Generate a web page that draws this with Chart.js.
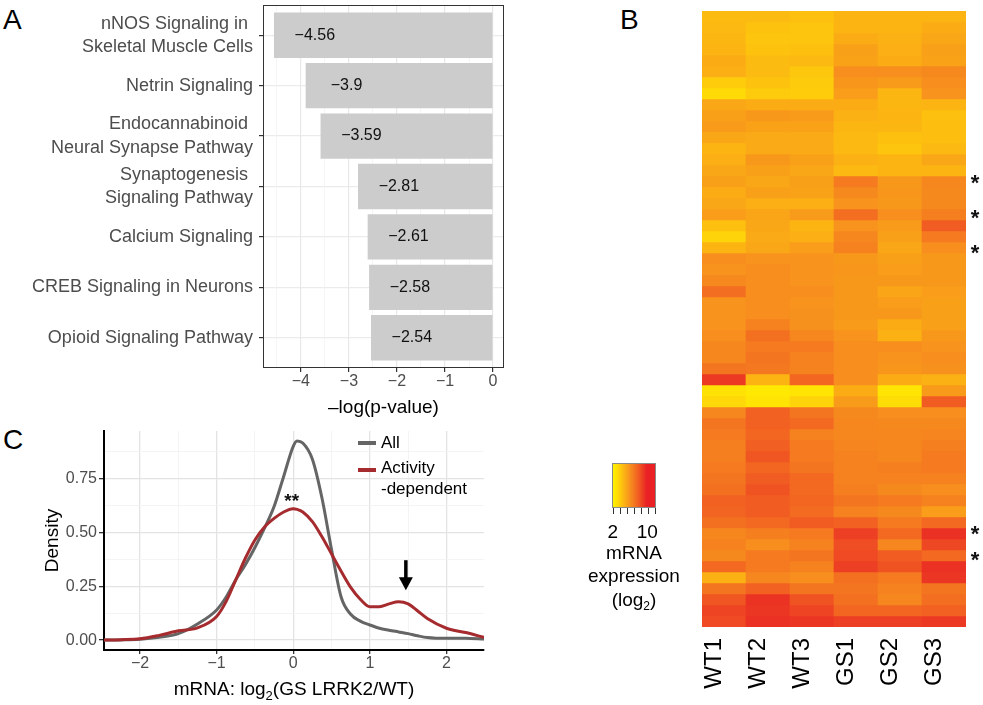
<!DOCTYPE html>
<html><head><meta charset="utf-8">
<script src="https://cdn.jsdelivr.net/npm/chart.js@4.4.1/dist/chart.umd.min.js"></script>
<style>
html,body{margin:0;padding:0;background:#fff;}
body{width:983px;height:705px;position:relative;overflow:hidden;font-family:"Liberation Sans",Arial,Helvetica,sans-serif;}
canvas{position:absolute;}
.plabel{position:absolute;font-size:28px;line-height:28px;color:#000;}
.lg{position:absolute;font-size:19px;line-height:22px;color:#000;text-align:center;white-space:nowrap;}
.lg sub{font-size:12px;line-height:0;vertical-align:-4px;}
</style></head>
<body>
<div class="plabel" style="left:3px;top:6px">A</div>
<div class="plabel" style="left:620px;top:6px">B</div>
<div class="plabel" style="left:3px;top:426px">C</div>
<canvas id="cA" width="520" height="420" style="left:0;top:0"></canvas>
<canvas id="cC" width="560" height="290" style="left:0;top:415px"></canvas>
<canvas id="cB" width="303" height="705" style="left:680px;top:0"></canvas>
<div id="legB"></div>
<script>
// ---------- Panel A data ----------
const pathways = [["nNOS Signaling in ","Skeletal Muscle Cells"],["Netrin Signaling"],["Endocannabinoid ","Neural Synapse Pathway"],["Synaptogenesis ","Signaling Pathway"],["Calcium Signaling"],["CREB Signaling in Neurons"],["Opioid Signaling Pathway"]];
const logP = [-4.56,-3.9,-3.59,-2.81,-2.61,-2.58,-2.54];
const pTicks = [-4,-3,-2,-1,0];

// ---------- Panel B data (log2 mRNA expression, rows top to bottom) ----------
const samples = ["WT1","WT2","WT3","GS1","GS2","GS3"];
const WT1 = [4.2,4.3,4.4,4.5,4.8,4.7,3.5,2.9,5.0,5.3, 5.5,5.0,4.5,4.7,5.0,5.3,4.8,5.0,5.4,4.0, 3.2,4.5,6.0,5.8,6.2,7.3,5.8,5.8,5.8,6.0, 6.3,6.3,7.0,9.2,2.6,3.0,6.3,7.0,6.8,6.6, 6.6,6.8,7.0,7.2,7.8,7.7,7.2,6.3,6.5,6.2, 7.5,4.6,7.0,8.2,8.8,8.6];
const WT2 = [4.2,3.9,3.8,3.9,4.2,4.2,3.9,3.6,4.8,5.6, 5.2,4.9,4.9,5.6,5.3,5.0,5.3,4.7,5.1,5.0, 4.9,5.0,5.8,6.0,6.0,6.0,6.0,6.0,6.5,7.2, 6.8,7.0,6.9,4.5,2.3,2.5,7.8,7.8,7.6,7.9, 8.2,7.6,8.0,8.3,8.0,8.0,7.5,6.6,6.0,6.8, 6.8,6.3,7.8,9.4,9.3,9.5];
const WT3 = [4.0,3.8,3.8,4.0,4.3,3.7,3.6,3.5,4.8,5.5, 5.2,4.9,4.9,5.3,5.0,5.3,5.2,4.7,5.5,4.5, 4.7,5.4,5.8,5.8,5.8,6.0,5.8,5.9,5.9,6.3, 6.8,6.5,6.5,7.6,2.5,3.2,7.0,7.5,6.5,6.8, 6.8,7.0,7.5,7.5,7.6,7.4,8.0,6.8,6.5,7.0, 6.5,6.0,7.0,8.3,8.8,9.3];
const GS1 = [4.5,4.5,4.8,5.3,5.2,6.0,5.7,5.4,4.8,4.6, 4.4,4.3,4.3,4.6,4.3,6.8,6.2,5.8,7.3,5.8, 6.3,6.5,5.6,5.7,5.6,5.6,5.6,5.6,5.5,5.8, 6.0,6.0,6.0,6.0,4.8,5.5,6.2,6.3,6.3,6.4, 6.5,6.5,6.5,6.6,7.0,6.5,7.8,9.0,8.5,8.6, 9.0,7.2,7.0,7.2,7.6,9.0];
const GS2 = [4.5,4.5,4.6,4.7,4.8,6.0,5.5,4.4,4.4,4.5, 4.4,4.0,3.8,4.5,4.5,5.6,5.7,5.6,6.0,5.5, 5.3,5.0,5.3,5.4,5.6,5.1,5.4,5.6,4.8,4.6, 6.0,5.8,5.7,4.8,2.5,2.8,6.0,6.2,6.3,6.3, 6.3,6.6,6.5,6.2,6.8,6.2,6.8,7.5,6.3,8.0, 8.3,6.8,6.5,6.3,7.6,9.0];
const GS3 = [4.5,4.8,5.0,5.3,5.2,6.2,6.0,5.8,4.5,4.0, 4.1,4.1,4.3,5.0,4.5,6.3,6.2,6.2,6.6,8.0, 6.8,6.0,5.6,5.6,5.6,5.4,5.3,5.3,5.3,5.6, 5.8,6.0,5.9,4.6,5.5,8.0,6.0,6.2,6.4,6.6, 6.8,6.8,6.5,6.0,6.5,5.4,7.5,9.5,8.7,7.5, 9.5,9.3,7.0,7.3,7.8,9.2];
const sigRows = [15.1,18.3,21.5,47.0,49.4];
const legendTicks = [2,10];

// ---------- Panel C data ----------
const densityX = [-2.5,-2.25,-2,-1.75,-1.5,-1.25,-1,-0.875,-0.75,-0.625,-0.5,-0.375,-0.25,-0.125,0,0.05,0.125,0.25,0.375,0.5,0.625,0.75,0.875,1,1.125,1.25,1.375,1.5,1.625,1.75,2,2.25,2.5];
const densityAll = [0.0,0.001,0.004,0.013,0.03,0.075,0.14,0.2,0.28,0.35,0.43,0.52,0.62,0.76,0.90,0.925,0.915,0.84,0.66,0.42,0.2,0.12,0.088,0.07,0.055,0.046,0.038,0.03,0.02,0.012,0.008,0.009,0.005];
const densityActivity = [0.0,0.002,0.006,0.022,0.043,0.057,0.11,0.18,0.28,0.38,0.465,0.525,0.565,0.595,0.61,0.607,0.595,0.55,0.48,0.40,0.32,0.245,0.19,0.155,0.155,0.168,0.178,0.168,0.135,0.1,0.055,0.035,0.012];
const densityXTicks = [-2,-1,0,1,2];
const densityYTicks = [0,0.25,0.5,0.75];

const FONT = '"Liberation Sans", Arial, Helvetica, sans-serif';
Chart.defaults.font.family = FONT;
const minus = v => (v < 0 ? '\u2212' : '') + Math.abs(v);

// ================= Panel A =================
const aExtras = {
  id: 'aExtras',
  afterDatasetsDraw(chart) {
    const {ctx, scales: {x, y}, chartArea: a} = chart;
    ctx.save();
    ctx.font = '16px ' + FONT;
    ctx.fillStyle = '#111';
    ctx.textAlign = 'center';
    ctx.textBaseline = 'middle';
    logP.forEach((v, i) => ctx.fillText(minus(v), x.getPixelForValue(v + 0.85), y.getPixelForValue(i)));
    ctx.strokeStyle = '#333';
    ctx.lineWidth = 1;
    ctx.strokeRect(a.left + 0.5, a.top + 0.5, a.right - a.left - 1, a.bottom - a.top - 1);
    ctx.restore();
  }
};
new Chart(document.getElementById('cA'), {
  type: 'bar',
  data: {datasets: [{data: logP.map((v, i) => ({x: v, y: i})), backgroundColor: '#cccccc', borderWidth: 0, barPercentage: 0.9, categoryPercentage: 1}]},
  options: {
    indexAxis: 'y', responsive: false, animation: false,
    layout: {padding: {top: 5, right: 16, left: 0, bottom: 0}},
    plugins: {legend: {display: false}, tooltip: {enabled: false}},
    scales: {
      y: {
        type: 'linear', reverse: true, min: -0.6, max: 6.6, offset: false,
        afterBuildTicks: s => { s.ticks = pathways.map((_, i) => ({value: i})); },
        afterFit: s => { s.width = 263; s.paddingTop = 0; s.paddingBottom = 0; },
        ticks: {callback: v => pathways[v], font: {size: 18, lineHeight: 1.3}, color: '#4d4d4d', padding: 6, autoSkip: false},
        grid: {color: '#ebebeb', lineWidth: 1.2, tickColor: '#333', tickLength: 4, offset: false},
        border: {display: false}
      },
      x: {
        type: 'linear', min: -4.788, max: 0.228,
        afterBuildTicks: s => { const t = []; for (let k = -9; k <= 0; k++) t.push({value: k / 2}); s.ticks = t; },
        afterFit: s => { s.height = 52; },
        ticks: {callback: v => pTicks.includes(v) ? minus(v) : '', font: {size: 16}, color: '#4d4d4d', padding: 0, autoSkip: false, maxRotation: 0},
        grid: {
          color: c => Number.isInteger(c.tick.value) ? '#e8e8e8' : '#f3f3f3',
          lineWidth: c => Number.isInteger(c.tick.value) ? 1.2 : 0.8,
          tickColor: c => Number.isInteger(c.tick.value) ? '#333' : 'rgba(0,0,0,0)',
          tickLength: 4
        },
        border: {display: false},
        title: {display: true, text: '\u2013log(p-value)', color: '#000', font: {size: 19}, padding: {top: 0, bottom: 1}}
      }
    }
  },
  plugins: [aExtras]
});

// ================= Panel B =================
const heatCols = [WT1, WT2, WT3, GS1, GS2, GS3];
const colorStops = [[2, [255, 240, 0]], [4, [253, 192, 15]], [6, [247, 142, 30]], [8, [241, 92, 34]], [10, [233, 33, 37]]];
function colorFor(v) {
  const s = colorStops;
  if (v <= s[0][0]) return `rgb(${s[0][1].join(',')})`;
  for (let i = 1; i < s.length; i++) {
    if (v <= s[i][0]) {
      const t = (v - s[i - 1][0]) / (s[i][0] - s[i - 1][0]);
      const c = s[i - 1][1].map((a, k) => Math.round(a + (s[i][1][k] - a) * t));
      return `rgb(${c.join(',')})`;
    }
  }
  return `rgb(${s[s.length - 1][1].join(',')})`;
}
const nRows = WT1.length;
const heatDatasets = [];
for (let r = 0; r < nRows; r++) {
  heatDatasets.push({
    data: samples.map(() => [r, r + 1]),
    backgroundColor: heatCols.map(col => colorFor(col[r])),
    borderWidth: 0, barPercentage: 1, categoryPercentage: 1, grouped: false
  });
}
const bExtras = {
  id: 'bExtras',
  afterDatasetsDraw(chart) {
    const {ctx, scales: {y}, chartArea: a} = chart;
    ctx.save();
    ctx.font = 'bold 22px ' + FONT;
    ctx.fillStyle = '#111';
    ctx.textAlign = 'center';
    ctx.textBaseline = 'alphabetic';
    sigRows.forEach(r => ctx.fillText('*', a.right + 9, y.getPixelForValue(r) + 12.5));
    ctx.restore();
  }
};
new Chart(document.getElementById('cB'), {
  type: 'bar',
  data: {labels: samples, datasets: heatDatasets},
  options: {
    responsive: false, animation: false,
    layout: {padding: {top: 11, right: 17, left: 22, bottom: 0}},
    plugins: {legend: {display: false}, tooltip: {enabled: false}},
    scales: {
      x: {
        type: 'category', offset: true,
        afterFit: s => { s.height = 78; },
        grid: {display: false}, border: {display: false},
        ticks: {minRotation: 90, maxRotation: 90, autoSkip: false, font: {size: 24}, color: '#000', padding: 3, labelOffset: -10}
      },
      y: {type: 'linear', reverse: true, min: 0, max: nRows, display: false}
    }
  },
  plugins: [bExtras]
});

// colour legend for panel B
(function () {
  const box = {left: 612, top: 463, w: 44, h: 45};
  const lo = 1.8, hi = 12;
  const stops = [];
  for (let v = lo; v <= hi + 1e-9; v += 0.2) stops.push(`${colorFor(v)} ${((v - lo) / (hi - lo) * 100).toFixed(1)}%`);
  const leg = document.getElementById('legB');
  let html = `<div style="position:absolute;left:${box.left}px;top:${box.top}px;width:${box.w}px;height:${box.h}px;box-sizing:border-box;border:1px solid #8a8a8a;background:linear-gradient(to right, ${stops.join(',')});"></div>`;
  for (let k = 0; k < 7; k++) {
    const x = box.left + 1 + k * (box.w - 2) / 6;
    html += `<div style="position:absolute;left:${(x - 0.5).toFixed(1)}px;top:${box.top + box.h}px;width:1px;height:6px;background:#333;"></div>`;
  }
  legendTicks.forEach(v => {
    const x = box.left + (v - lo) / (hi - lo) * box.w;
    html += `<div class="lg" style="left:${x - 20}px;width:40px;top:521px;">${v}</div>`;
  });
  html += `<div class="lg" style="left:584px;width:100px;top:542px;">mRNA</div>`;
  html += `<div class="lg" style="left:584px;width:100px;top:565px;">expression</div>`;
  html += `<div class="lg" style="left:584px;width:100px;top:589px;">(log<sub>2</sub>)</div>`;
  leg.innerHTML = html;
})();

// ================= Panel C =================
const RED = '#a62b2e', GREY = '#656565';
const cExtras = {
  id: 'cExtras',
  afterDatasetsDraw(chart) {
    const {ctx, scales: {x, y}, chartArea: a} = chart;
    ctx.save();
    ctx.font = 'bold 19px ' + FONT;
    ctx.fillStyle = '#111';
    ctx.textAlign = 'center';
    ctx.textBaseline = 'alphabetic';
    ctx.fillText('**', x.getPixelForValue(-0.02), y.getPixelForValue(0.67) + 11);
    const ax = x.getPixelForValue(1.47), y0 = y.getPixelForValue(0.371), y1 = y.getPixelForValue(0.232);
    ctx.fillStyle = '#000';
    ctx.fillRect(ax - 1.75, y0, 3.5, (y1 - y0) - 11);
    ctx.beginPath();
    ctx.moveTo(ax - 7, y1 - 13);
    ctx.lineTo(ax + 7, y1 - 13);
    ctx.lineTo(ax, y1);
    ctx.closePath();
    ctx.fill();
    const items = [{lines: ['All'], color: GREY, keyDy: 0}, {lines: ['Activity', '-dependent'], color: RED, keyDy: 2}];
    let ty = a.top + 12;
    ctx.font = '17px ' + FONT;
    ctx.textAlign = 'left';
    ctx.textBaseline = 'middle';
    items.forEach(it => {
      ctx.strokeStyle = it.color;
      ctx.lineWidth = 4;
      ctx.beginPath();
      ctx.moveTo(a.left + 254, ty + it.keyDy);
      ctx.lineTo(a.left + 272, ty + it.keyDy);
      ctx.stroke();
      ctx.fillStyle = '#000';
      it.lines.forEach((ln, j) => ctx.fillText(ln, a.left + 277, ty + j * 21));
      ty += 25 + (it.lines.length - 1) * 21;
    });
    ctx.restore();
  },
  afterDraw(chart) {
    const {ctx, chartArea: a} = chart;
    ctx.save();
    ctx.fillStyle = '#000';
    ctx.textBaseline = 'middle';
    ctx.textAlign = 'left';
    const big = '19px ' + FONT, small = '13px ' + FONT;
    const p1 = 'mRNA: log', p2 = '2', p3 = '(GS LRRK2/WT)';
    ctx.font = big; const w1 = ctx.measureText(p1).width, w3 = ctx.measureText(p3).width;
    ctx.font = small; const w2 = ctx.measureText(p2).width;
    let sx = (a.left + a.right) / 2 - (w1 + w2 + w3) / 2;
    const cy = chart.height - 15;
    ctx.font = big; ctx.fillText(p1, sx, cy); sx += w1;
    ctx.font = small; ctx.fillText(p2, sx, cy + 6); sx += w2;
    ctx.font = big; ctx.fillText(p3, sx, cy);
    ctx.restore();
  }
};
const isMajorX = v => densityXTicks.includes(v);
const isMajorY = v => densityYTicks.some(t => Math.abs(t - v) < 1e-9);
new Chart(document.getElementById('cC'), {
  type: 'line',
  data: {datasets: [
    {label: 'Activity -dependent', data: densityX.map((x, i) => ({x, y: densityActivity[i]})), borderColor: RED, borderWidth: 3, pointRadius: 0, cubicInterpolationMode: 'monotone', fill: false},
    {label: 'All', data: densityX.map((x, i) => ({x, y: densityAll[i]})), borderColor: GREY, borderWidth: 3, pointRadius: 0, cubicInterpolationMode: 'monotone', fill: false}
  ]},
  options: {
    responsive: false, animation: false,
    layout: {padding: {top: 16, right: 76, left: 0, bottom: 0}},
    plugins: {legend: {display: false}, tooltip: {enabled: false}},
    scales: {
      x: {
        type: 'linear', min: -2.47, max: 2.49,
        afterBuildTicks: s => { const t = []; for (let k = -4; k <= 4; k++) t.push({value: k / 2}); s.ticks = t; },
        afterFit: s => { s.height = 55; },
        ticks: {callback: v => isMajorX(v) ? minus(v) : '', font: {size: 16}, color: '#4d4d4d', padding: 0, autoSkip: false, maxRotation: 0},
        grid: {
          color: c => isMajorX(c.tick.value) ? '#e3e3e3' : '#f1f1f1',
          lineWidth: c => isMajorX(c.tick.value) ? 1.3 : 0.8,
          tickColor: c => isMajorX(c.tick.value) ? '#333' : 'rgba(0,0,0,0)',
          tickLength: 4
        },
        border: {display: true, color: '#000', width: 2}
      },
      y: {
        type: 'linear', min: -0.046, max: 0.971,
        afterBuildTicks: s => { const t = []; for (let k = 0; k <= 7; k++) t.push({value: k * 0.125}); s.ticks = t; },
        afterFit: s => { s.width = 104; },
        ticks: {callback: v => isMajorY(v) ? v.toFixed(2) : '', font: {size: 16}, color: '#4d4d4d', padding: 2, autoSkip: false},
        grid: {
          color: c => isMajorY(c.tick.value) ? '#e3e3e3' : '#f1f1f1',
          lineWidth: c => isMajorY(c.tick.value) ? 1.3 : 0.8,
          tickColor: c => isMajorY(c.tick.value) ? '#333' : 'rgba(0,0,0,0)',
          tickLength: 5
        },
        border: {display: true, color: '#000', width: 2},
        title: {display: true, text: 'Density', color: '#000', font: {size: 19}, padding: {top: 41, bottom: 0}}
      }
    }
  },
  plugins: [cExtras]
});
</script>
</body></html>
